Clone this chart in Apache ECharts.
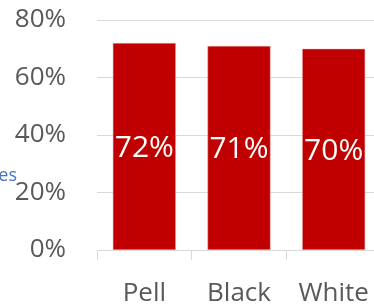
<!DOCTYPE html>
<html>
<head>
<meta charset="utf-8">
<script src="https://cdn.jsdelivr.net/npm/echarts@6/dist/echarts.min.js"></script>
<style>
  html, body { margin: 0; padding: 0; background: #fff; }
  #main { width: 374px; height: 305px; }
</style>
</head>
<body>
<div id="main"></div>
<script>
var categories = ['Pell', 'Black', 'White'];
var rates = [72, 71, 70];
var yTicks = [0, 20, 40, 60, 80];

var chart = echarts.init(document.getElementById('main'), null, { renderer: 'canvas' });

var option = {
  animation: false,
  textStyle: { fontFamily: 'Open Sans' },
  grid: {
    left: 97,
    right: -7,
    top: 20,
    bottom: 55,
    outerBoundsMode: 'none'
  },
  // clipped axis title on the far left
  graphic: [
    {
      type: 'text',
      x: 17,
      y: 185,
      style: {
        text: 'es',
        fill: '#4472C4',
        font: '18px "Open Sans"',
        textAlign: 'right',
        textVerticalAlign: 'bottom'
      }
    }
  ],
  xAxis: {
    type: 'category',
    data: categories,
    axisLine: { lineStyle: { color: '#d9d9d9', width: 1 } },
    axisTick: { show: true, length: 10, lineStyle: { color: '#d9d9d9' } },
    axisLabel: {
      color: '#595959',
      fontSize: 26,
      margin: 31
    }
  },
  yAxis: {
    type: 'value',
    min: yTicks[0],
    max: yTicks[yTicks.length - 1],
    interval: 20,
    axisLine: { show: false },
    axisTick: { show: false },
    splitLine: { lineStyle: { color: '#d9d9d9', width: 1 } },
    axisLabel: {
      color: '#595959',
      fontSize: 26,
      margin: 31,
      formatter: '{value}%'
    }
  },
  series: [
    {
      type: 'bar',
      data: rates,
      barWidth: 63,
      itemStyle: {
        color: '#C00000',
        borderColor: '#e8b0b0',
        borderWidth: 0.5
      },
      label: {
        show: true,
        position: 'inside',
        offset: [0, 2],
        color: '#fff',
        fontSize: 30,
        formatter: '{c}%'
      }
    }
  ]
};

chart.setOption(option);
</script>
</body>
</html>
